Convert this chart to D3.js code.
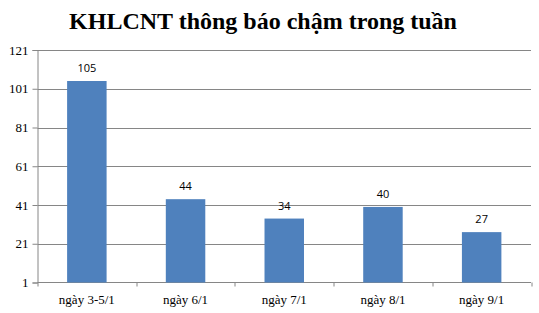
<!DOCTYPE html>
<html>
<head>
<meta charset="utf-8">
<script src="https://cdn.jsdelivr.net/npm/d3@7"></script>
<style>
  body { margin: 0; background: #fff; }
  svg { display: block; }
  .title { font-family: "Liberation Serif", "Times New Roman", serif; font-weight: bold; font-size: 24px; fill: #000; }
  .axis text { font-family: "Liberation Serif", "Times New Roman", serif; font-size: 13px; fill: #000; }
  .lbl { font-family: "Open Sans", "DejaVu Sans", sans-serif; font-size: 11px; fill: #000; }
</style>
</head>
<body>
<svg id="chart" width="539" height="313"></svg>
<script>
const title = "KHLCNT thông báo chậm trong tuần";
const categories = ["ngày 3-5/1", "ngày 6/1", "ngày 7/1", "ngày 8/1", "ngày 9/1"];
const values = [105, 44, 34, 40, 27];
const yTicks = [1, 21, 41, 61, 81, 101, 121];

const width = 539, height = 313;
const padding = { top: 50, right: 8, bottom: 30.5, left: 37.5 };
const innerWidth = width - padding.left - padding.right;
const innerHeight = height - padding.top - padding.bottom;

const svg = d3.select("#chart");

svg.append("text")
    .attr("class", "title")
    .attr("x", 263)
    .attr("y", 29)
    .attr("text-anchor", "middle")
    .text(title);

const g = svg.append("g")
    .attr("transform", `translate(${padding.left},${padding.top})`);

const x = d3.scaleBand().domain(categories).range([0, innerWidth]).paddingInner(0.6).paddingOuter(0.3);
const xOuter = d3.scaleBand().domain(categories).range([0, innerWidth]);
const y = d3.scaleLinear().domain([1, 121]).range([innerHeight, 0]);

// gridlines
g.append("g")
    .selectAll("line")
    .data(yTicks.slice(1))
    .enter()
    .append("line")
    .attr("x1", 0)
    .attr("x2", innerWidth)
    .attr("y1", d => Math.round(y(d)) + 0.5)
    .attr("y2", d => Math.round(y(d)) + 0.5)
    .attr("stroke", "#868686")
    .attr("stroke-width", 1);

// y axis
const yAxis = d3.axisLeft(y).tickValues(yTicks).tickSize(5).tickPadding(4);
const ya = g.append("g").attr("class", "axis").call(yAxis);
ya.selectAll("line, path").attr("stroke", "#868686");

// x axis with ticks between categories
const xa = g.append("g").attr("class", "axis")
    .attr("transform", `translate(0,${innerHeight})`);
xa.append("line")
    .attr("x1", 0).attr("x2", innerWidth)
    .attr("y1", 0).attr("y2", 0)
    .attr("stroke", "#868686");
xa.selectAll(".tk")
    .data(categories.map(c => xOuter(c)).concat([innerWidth]))
    .enter()
    .append("line")
    .attr("class", "tk")
    .attr("x1", d => Math.round(d) + 0.5)
    .attr("x2", d => Math.round(d) + 0.5)
    .attr("y1", 0).attr("y2", 4)
    .attr("stroke", "#868686");
xa.selectAll("text")
    .data(categories)
    .enter()
    .append("text")
    .attr("x", d => xOuter(d) + xOuter.bandwidth() / 2)
    .attr("y", 21)
    .attr("text-anchor", "middle")
    .text(d => d);

// bars
g.selectAll(".bar")
    .data(values)
    .enter()
    .append("rect")
    .attr("class", "bar")
    .attr("x", (d, i) => x(categories[i]))
    .attr("width", x.bandwidth())
    .attr("y", d => y(d))
    .attr("height", d => y(1) - y(d))
    .attr("fill", "#4F81BD");

// value labels
g.selectAll(".lbl")
    .data(values)
    .enter()
    .append("text")
    .attr("class", "lbl")
    .attr("x", (d, i) => x(categories[i]) + x.bandwidth() / 2)
    .attr("y", d => y(d) - 9)
    .attr("text-anchor", "middle")
    .text(d => d);
</script>
</body>
</html>
